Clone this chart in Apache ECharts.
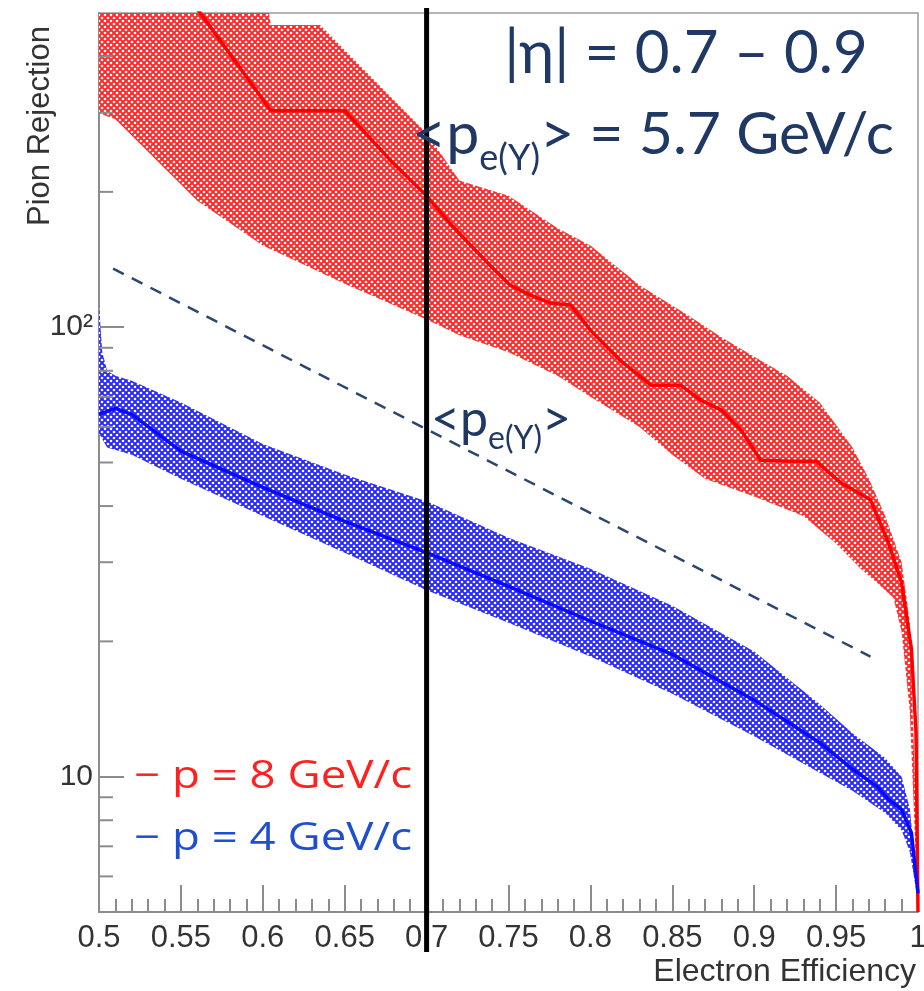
<!DOCTYPE html>
<html><head><meta charset="utf-8">
<script src="https://cdn.jsdelivr.net/npm/echarts@6/dist/echarts.min.js"></script>
<style>html,body{margin:0;padding:0;background:#fff}#c{width:924px;height:991px}</style>
</head><body><div id="c"></div>
<script>
// ---- data ----
const redCenterX = [0.5, 0.562, 0.605, 0.650, 0.678, 0.700, 0.715, 0.727, 0.739, 0.751, 0.763, 0.776, 0.788, 0.800, 0.818, 0.837, 0.855, 0.867, 0.880, 0.892, 0.904, 0.922, 0.938, 0.953, 0.971, 0.982, 0.990, 0.996, 0.9988, 1.0];
const redCenterY = [1000, 499, 303, 303, 235, 196, 169, 152, 137, 124, 118, 113, 112, 98.5, 84.5, 74.3, 74.3, 68.9, 65.4, 59.0, 50.6, 50.3, 50.3, 45.0, 41.3, 33.1, 27.0, 19.2, 12.5, 5.0];
const redBandX = [0.5, 0.6, 0.605, 0.635, 0.68, 0.70, 0.72, 0.75, 0.78, 0.80, 0.83, 0.86, 0.88, 0.90, 0.92, 0.94, 0.96, 0.97, 0.98, 0.99, 0.995, 1.0];
const redUpper = [700, 600, 470, 470, 320, 270, 212, 196, 166, 152, 124, 106, 95, 86, 78, 68, 54, 46, 38, 30, 22, 6];
const redLowerX = [0.5, 0.51, 0.56, 0.6, 0.65, 0.70, 0.72, 0.75, 0.78, 0.80, 0.83, 0.85, 0.87, 0.9, 0.93, 0.95, 0.965, 0.975, 0.985, 0.99, 0.995, 1.0];
const redLower = [299, 290, 191, 152, 125, 104, 96, 88, 78, 70, 60, 52, 46, 42, 38, 33, 29, 27, 25, 21, 14, 5.0];
const blueCenterX = [0.5, 0.51, 0.52, 0.55, 0.6, 0.65, 0.7, 0.75, 0.8, 0.85, 0.9, 0.94, 0.96, 0.975, 0.982, 0.99, 0.996, 1.0];
const blueCenterY = [64, 66, 64, 53, 44, 37, 31.5, 26.5, 22.2, 18.7, 14.8, 11.9, 10.4, 9.5, 8.9, 8.45, 7.5, 5.5];
const blueUpperX = [0.5, 0.502, 0.505, 0.51, 0.52, 0.55, 0.6, 0.65, 0.7, 0.75, 0.8, 0.85, 0.9, 0.94, 0.96, 0.98, 0.99, 0.995, 1.0];
const blueUpper = [112, 88, 80, 78, 76, 68, 55, 47, 41, 34, 29, 24, 19, 14.5, 12.5, 11, 10, 8.5, 5.6];
const blueLowerX = [0.5, 0.505, 0.52, 0.55, 0.6, 0.65, 0.7, 0.75, 0.8, 0.85, 0.9, 0.94, 0.96, 0.98, 0.99, 0.995, 1.0];
const blueLower = [58, 54, 52, 46, 38, 31.5, 26, 22, 18.5, 15.3, 12.3, 10.2, 9.3, 8.3, 7.6, 6.8, 5.3];
const refLineX = [0.5086, 0.971];
const refLineY = [135, 18.5];
const yMinorTicks = [6, 7, 8, 9, 20, 30, 40, 50, 60, 70, 80, 90, 200, 300, 400];
const yLabels = {10: '10', 100: '10\u00B2'};
const xEndLabels = [0.5, 1];

const navy = '#1f3864';
const axisGray = '#8c8c8c';
const labelFont = 'Liberation Sans';

function makePattern(color) {
  const c = document.createElement('canvas');
  c.width = 6; c.height = 6;
  const g = c.getContext('2d');
  g.fillStyle = color; g.fillRect(0, 0, 6, 6);
  g.fillStyle = '#ffffff';
  [[3, 3], [0, 0], [6, 0], [0, 6], [6, 6]].forEach(p => { g.beginPath(); g.arc(p[0], p[1], 1.3, 0, Math.PI * 2); g.fill(); });
  return c;
}
const redPat = makePattern('#ff2a2a');
const bluePat = makePattern('#2a2aff');

function zip(xs, ys) { return xs.map((x, i) => [x, ys[i]]); }

function bandSeries(upX, up, loX, lo, pat) {
  return {
    type: 'custom', silent: true, z: 1,
    data: [[upX[0], up[0]]],
    encode: {x: 0, y: 1},
    renderItem: function (params, api) {
      const pts = [];
      for (let i = 0; i < upX.length; i++) pts.push(api.coord([upX[i], up[i]]));
      for (let i = loX.length - 1; i >= 0; i--) pts.push(api.coord([loX[i], lo[i]]));
      const cs = params.coordSys;
      return {
        type: 'polygon', shape: {points: pts},
        style: {fill: {image: pat, repeat: 'repeat'}, stroke: null},
        clipPath: {type: 'rect', shape: {x: cs.x, y: cs.y, width: cs.width, height: cs.height}}
      };
    }
  };
}

const chart = echarts.init(document.getElementById('c'), null, {renderer: 'canvas'});
const option = {
  animation: false,
  backgroundColor: '#ffffff',
  grid: {left: 99, top: 13, right: 6, bottom: 79, show: true, borderColor: '#9a9a9a', borderWidth: 1.5},
  xAxis: {
    type: 'value', min: 0.5, max: 1, interval: 0.05,
    axisLine: {lineStyle: {color: axisGray, width: 2}},
    axisTick: {inside: true, length: 27, lineStyle: {color: axisGray, width: 2}},
    minorTick: {show: true, splitNumber: 5, length: 13, lineStyle: {color: axisGray, width: 2}},
    splitLine: {show: false},
    axisLabel: {margin: 11, color: '#333', fontSize: 31, fontFamily: labelFont,
      showMinLabel: false, showMaxLabel: false, hideOverlap: false,
      formatter: v => String(+v.toFixed(2))},
    name: 'Electron Efficiency', nameLocation: 'end', nameGap: -2,
    nameTextStyle: {color: '#333', fontSize: 32, fontFamily: labelFont, align: 'right', verticalAlign: 'top', padding: [44, 0, 0, 0]}
  },
  yAxis: {
    type: 'log', logBase: 10, min: 5, max: 500,
    axisLine: {lineStyle: {color: axisGray, width: 2}},
    axisTick: {inside: true, length: 25, lineStyle: {color: axisGray, width: 2}},
    splitLine: {show: false},
    minorTick: {show: false},
    axisLabel: {margin: 6, color: '#333', fontSize: 30, fontFamily: labelFont,
      showMinLabel: false, showMaxLabel: false,
      formatter: v => yLabels[Math.round(v)] || ''}
  },
  series: [
    bandSeries(redBandX, redUpper, redLowerX, redLower, redPat),
    bandSeries(blueUpperX, blueUpper, blueLowerX, blueLower, bluePat),
    {type: 'line', data: zip(redCenterX, redCenterY), symbol: 'none', z: 3, clip: true,
      lineStyle: {color: '#ff0000', width: 3.5}},
    {type: 'line', data: zip(blueCenterX, blueCenterY), symbol: 'none', z: 3, clip: true,
      lineStyle: {color: '#0a0aff', width: 3.5}},
    {type: 'line', data: zip(refLineX, refLineY), symbol: 'none', z: 3,
      lineStyle: {color: '#2d4670', width: 2.5, type: [12, 9]}},
    {type: 'custom', silent: true, z: 4, data: yMinorTicks.map(v => [0.5, v]), encode: {x: 0, y: 1},
      renderItem: function (params, api) {
        const p = api.coord([0.5, api.value(1)]);
        return {type: 'line', shape: {x1: p[0], y1: p[1], x2: p[0] + 14, y2: p[1]},
          style: {stroke: axisGray, lineWidth: 2}};
      }}
  ]
};
chart.setOption(option);

const x07 = chart.convertToPixel({xAxisIndex: 0}, 0.7);
const axisY = chart.convertToPixel({yAxisIndex: 0}, 5);
const textFont = 'Lato, "Open Sans", sans-serif';
const endLabelGraphics = xEndLabels.map(v => ({
  type: 'text', z: 50, x: chart.convertToPixel({xAxisIndex: 0}, v), y: axisY + 11,
  style: {text: String(v === 1 ? 1 : v), fontSize: 31, fontFamily: labelFont, fill: '#333', align: 'center', verticalAlign: 'top'}
}));
chart.setOption({
  graphic: endLabelGraphics.concat([
    {type: 'line', z: 100, shape: {x1: x07, y1: 8, x2: x07, y2: 952}, style: {stroke: '#000', lineWidth: 5}},
    {type: 'text', z: 100, x: 40, y: 226, rotation: Math.PI / 2,
      style: {text: 'Pion Rejection', fontSize: 31, fontFamily: labelFont, fill: '#333', align: 'left', verticalAlign: 'middle'}},
    {type: 'text', z: 100, x: 686, y: 54,
      style: {text: '|\u03B7| = 0.7 \u2013 0.9', fontSize: 60, fontFamily: textFont, fill: navy, align: 'center', verticalAlign: 'middle'}},
    {type: 'text', z: 100, x: 653, y: 135,
      style: {text: '{a|<p}{s|e(\u03A5)}{a|> = 5.7 GeV/c}', align: 'center', verticalAlign: 'middle',
        rich: {a: {fontSize: 59, fontFamily: textFont, fill: navy, lineHeight: 82, verticalAlign: 'middle'},
               s: {fontSize: 36, fontFamily: textFont, fill: navy, lineHeight: 36, verticalAlign: 'bottom'}}}},
    {type: 'text', z: 100, x: 431, y: 420,
      style: {text: '{a|<p}{s|e(\u03A5)}{a|>}', align: 'left', verticalAlign: 'middle',
        rich: {a: {fontSize: 50, fontFamily: textFont, fill: navy, lineHeight: 70, verticalAlign: 'middle'},
               s: {fontSize: 32, fontFamily: textFont, fill: navy, lineHeight: 32, verticalAlign: 'bottom'}}}},
    {type: 'text', z: 100, x: 134, y: 777, scaleX: 1.2,
      style: {text: '\u2212 p = 8 GeV/c', fontSize: 38, fontFamily: '"Open Sans", sans-serif', fill: '#ff2020', align: 'left', verticalAlign: 'middle'}},
    {type: 'text', z: 100, x: 134, y: 839, scaleX: 1.2,
      style: {text: '\u2212 p = 4 GeV/c', fontSize: 38, fontFamily: '"Open Sans", sans-serif', fill: '#1f4fd0', align: 'left', verticalAlign: 'middle'}}
  ])
});
</script></body></html>
